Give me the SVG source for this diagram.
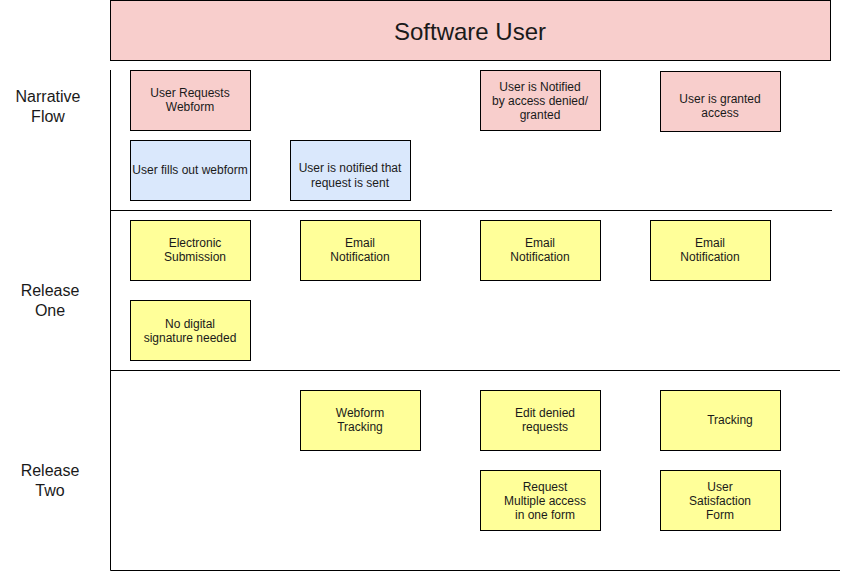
<svg xmlns="http://www.w3.org/2000/svg" width="842" height="572" viewBox="0 0 842 572">
<style>
text{font-family:"Liberation Sans",Arial,sans-serif;fill:#1a1a1a;text-anchor:middle;dominant-baseline:central}
.b{stroke:#000;stroke-width:1}
.p{fill:#f8cecc}.bl{fill:#dae8fc}.y{fill:#ffff99}
.t{font-size:12px}
.l{font-size:16px}
.ln{stroke:#000;stroke-width:1;fill:none}
</style>
<rect width="842" height="572" fill="#fff"/>
<g id="title"><rect class="b p" x="110.5" y="0.5" width="720" height="60"/><text x="470" y="31" style="font-size:24px">Software User</text></g>
<g id="lanes">
<path class="ln" d="M110.5 70V570.5H840M110.5 210.5H832M110.5 370.5H840"/>
</g>
<g id="lbl-narrative"><text class="l" x="48" y="96">Narrative</text><text class="l" x="48" y="116">Flow</text></g>
<g id="lbl-r1"><text class="l" x="50" y="290">Release</text><text class="l" x="50" y="310">One</text></g>
<g id="lbl-r2"><text class="l" x="50" y="470">Release</text><text class="l" x="50" y="490">Two</text></g>
<g id="n1"><rect class="b p" x="130.5" y="70.5" width="120" height="60"/><text class="t" x="190" y="93">User Requests</text><text class="t" x="190" y="107">Webform</text></g>
<g id="n2"><rect class="b p" x="480.5" y="70.5" width="120" height="60"/><text class="t" x="540" y="87">User is Notified</text><text class="t" x="540" y="101">by access denied/</text><text class="t" x="540" y="115">granted</text></g>
<g id="n3"><rect class="b p" x="660.5" y="71.5" width="120" height="60"/><text class="t" x="720" y="99">User is granted</text><text class="t" x="720" y="113">access</text></g>
<g id="n4"><rect class="b bl" x="130.5" y="140.5" width="120" height="60"/><text class="t" x="190" y="170">User fills out webform</text></g>
<g id="n5"><rect class="b bl" x="290.5" y="140.5" width="120" height="60"/><text class="t" x="350" y="168">User is notified that</text><text class="t" x="350" y="183">request is sent</text></g>
<g id="n6"><rect class="b y" x="130.5" y="220.5" width="120" height="60"/><text class="t" x="195" y="243">Electronic</text><text class="t" x="195" y="257">Submission</text></g>
<g id="n7"><rect class="b y" x="300.5" y="220.5" width="120" height="60"/><text class="t" x="360" y="243">Email</text><text class="t" x="360" y="257">Notification</text></g>
<g id="n8"><rect class="b y" x="480.5" y="220.5" width="120" height="60"/><text class="t" x="540" y="243">Email</text><text class="t" x="540" y="257">Notification</text></g>
<g id="n9"><rect class="b y" x="650.5" y="220.5" width="120" height="60"/><text class="t" x="710" y="243">Email</text><text class="t" x="710" y="257">Notification</text></g>
<g id="n10"><rect class="b y" x="130.5" y="300.5" width="120" height="60"/><text class="t" x="190" y="324">No digital</text><text class="t" x="190" y="338">signature needed</text></g>
<g id="n11"><rect class="b y" x="300.5" y="390.5" width="120" height="60"/><text class="t" x="360" y="413">Webform</text><text class="t" x="360" y="427">Tracking</text></g>
<g id="n12"><rect class="b y" x="480.5" y="390.5" width="120" height="60"/><text class="t" x="545" y="413">Edit denied</text><text class="t" x="545" y="427">requests</text></g>
<g id="n13"><rect class="b y" x="660.5" y="390.5" width="120" height="60"/><text class="t" x="730" y="420">Tracking</text></g>
<g id="n14"><rect class="b y" x="480.5" y="470.5" width="120" height="60"/><text class="t" x="545" y="487">Request</text><text class="t" x="545" y="501">Multiple access</text><text class="t" x="545" y="515">in one form</text></g>
<g id="n15"><rect class="b y" x="660.5" y="470.5" width="120" height="60"/><text class="t" x="720" y="487">User</text><text class="t" x="720" y="501">Satisfaction</text><text class="t" x="720" y="515">Form</text></g>
</svg>
